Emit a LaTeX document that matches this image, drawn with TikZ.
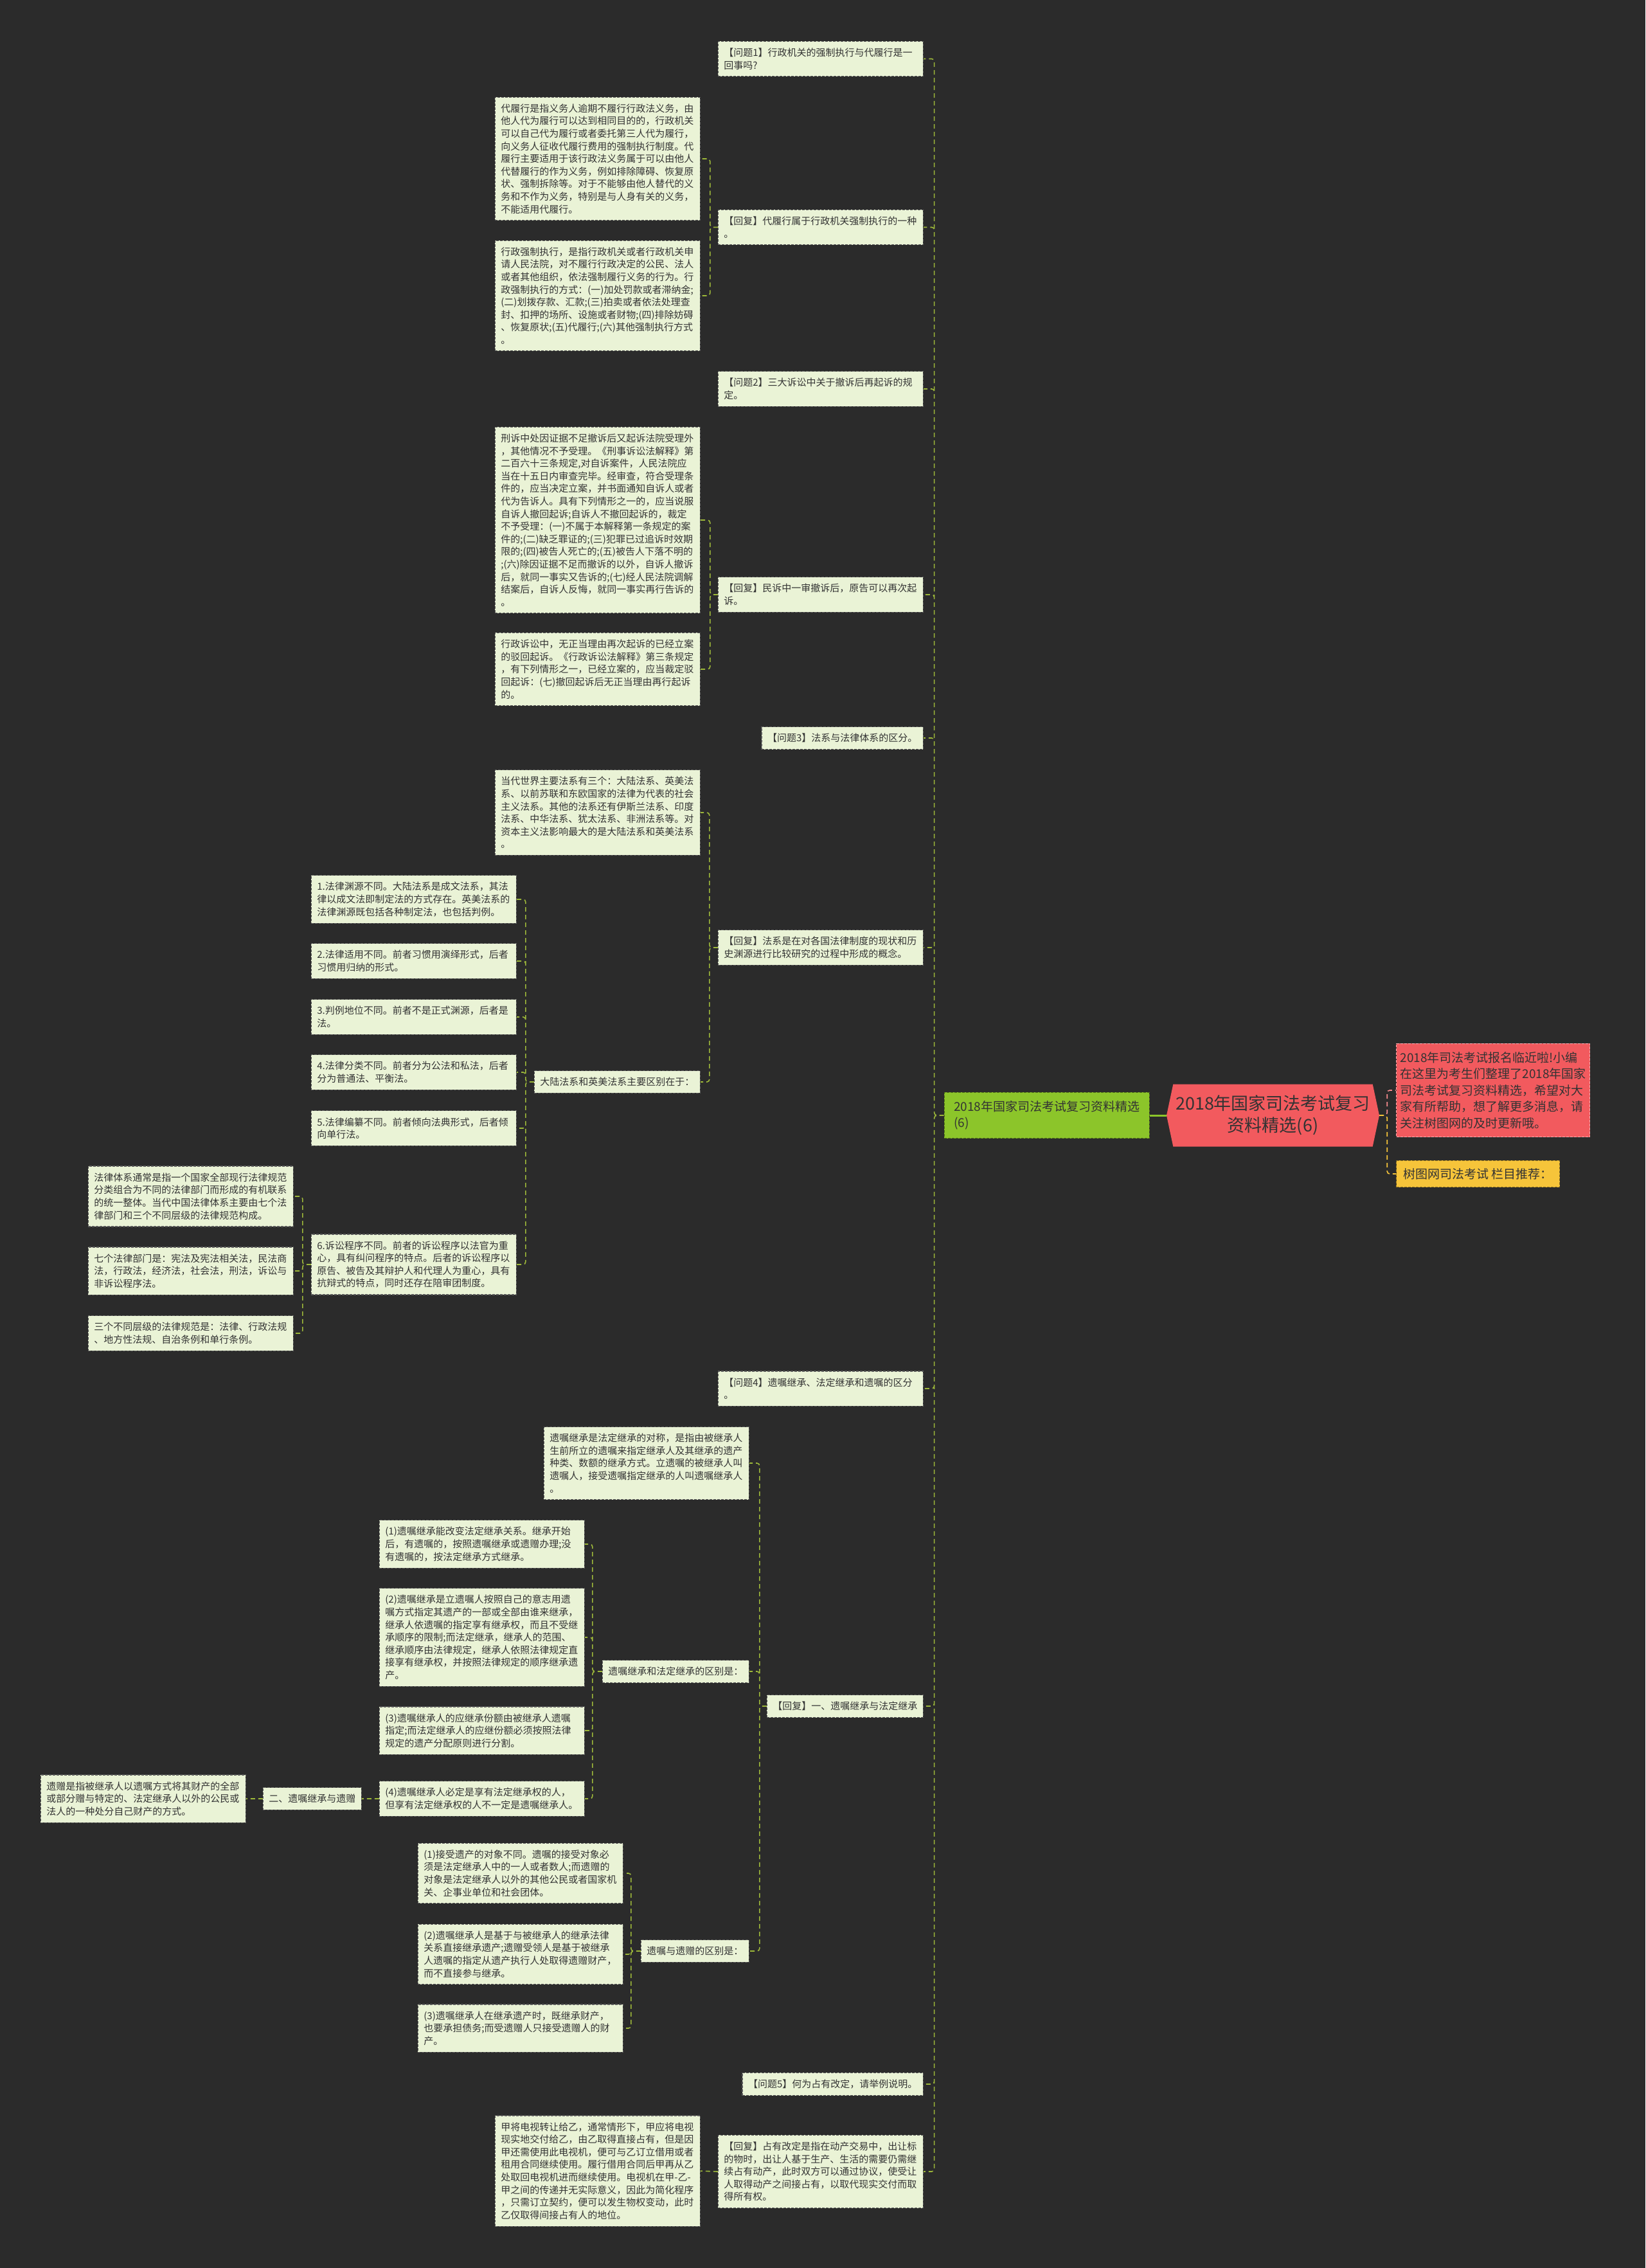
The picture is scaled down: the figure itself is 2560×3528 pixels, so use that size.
\documentclass[tikz,border=0pt]{standalone}
\usepackage{fontspec}
\setmainfont{Noto Sans CJK SC}
\usetikzlibrary{shapes.symbols}

\definecolor{bgc}{HTML}{2B2B2B}
\definecolor{boxfill}{HTML}{EAF3D6}
\definecolor{boxline}{HTML}{5A5A5A}
\definecolor{linkc}{HTML}{9DB83A}
\definecolor{rootred}{HTML}{F25A5E}
\definecolor{leafgreen}{HTML}{8CC52A}
\definecolor{tipyellow}{HTML}{F6C43A}
\definecolor{txt}{HTML}{333333}

\tikzset{
  note/.style={draw=boxline, line width=1.2pt, dash pattern=on 4pt off 2pt, fill=boxfill, text=txt,
    font=\fontsize{15}{19.6}\selectfont, inner xsep=9pt, inner ysep=10.5pt, align=left, anchor=east},
  wide/.style={note, text width=301pt},
  link/.style={draw=linkc, line width=1.6pt, dash pattern=on 7pt off 5pt, rounded corners=4pt},
  topic/.style={font=\fontsize{19}{25.5}\selectfont, text=txt, align=left, line width=1.2pt, dash pattern=on 4pt off 2pt}
}

\begin{document}
\begin{tikzpicture}[x=1pt,y=-1pt]
	\fill[bgc] (0,0) rectangle (2560,3528);
	\useasboundingbox (0,0) rectangle (2560,3528);

	% centre
	\draw (1980.5,1735) node [signal, signal to=west and east, signal pointer angle=156, fill=rootred, text=txt,
		minimum width=331pt, minimum height=97pt, align=center, font=\fontsize{27}{34}\selectfont] (root)
		{2018年国家司法考试复习\\资料精选(6)};
	\draw (1789,1735) node [topic, anchor=east, fill=leafgreen, draw=leafgreen!60!black, inner xsep=15pt, inner ysep=13pt] (main)
		{2018年国家司法考试复习资料精选\\(6)};
	\draw (2172,1696) node [topic, anchor=west, fill=rootred, draw=rootred!50!white, inner xsep=6pt, inner ysep=13pt] (intro)
		{2018年司法考试报名临近啦!小编\\在这里为考生们整理了2018年国家\\司法考试复习资料精选，希望对大\\家有所帮助，想了解更多消息，请\\关注树图网的及时更新哦。};
	\draw (2172,1826) node [topic, anchor=west, fill=tipyellow, draw=tipyellow!60!black, inner xsep=11pt, inner ysep=12pt] (more)
		{树图网司法考试 栏目推荐：};

	% questions and answers
	\draw (1437,91.5) node [wide] (q1) {【问题1】行政机关的强制执行与代履行是一\\回事吗?};
	\draw (1437,353.5) node [wide] (r1) {【回复】代履行属于行政机关强制执行的一种\\。};
	\draw (1437,605) node [wide] (q2) {【问题2】三大诉讼中关于撤诉后再起诉的规\\定。};
	\draw (1437,925) node [wide] (r2) {【回复】民诉中一审撤诉后，原告可以再次起\\诉。};
	\draw (1437,1148) node [note] (q3) {【问题3】法系与法律体系的区分。};
	\draw (1437,1474) node [wide] (r3) {【回复】法系是在对各国法律制度的现状和历\\史渊源进行比较研究的过程中形成的概念。};
	\draw (1437,2160) node [wide] (q4) {【问题4】遗嘱继承、法定继承和遗嘱的区分\\。};
	\draw (1437,2654) node [note] (r4) {【回复】一、遗嘱继承与法定继承};
	\draw (1437,3242) node [note] (q5) {【问题5】何为占有改定，请举例说明。};
	\draw (1437,3378) node [wide] (r5) {【回复】占有改定是指在动产交易中，出让标\\的物时，出让人基于生产、生活的需要仍需继\\续占有动产，此时双方可以通过协议，使受让\\人取得动产之间接占有，以取代现实交付而取\\得所有权。};

	% details
	\draw (1090,247) node [wide] (a1) {代履行是指义务人逾期不履行行政法义务，由\\他人代为履行可以达到相同目的的，行政机关\\可以自己代为履行或者委托第三人代为履行，\\向义务人征收代履行费用的强制执行制度。代\\履行主要适用于该行政法义务属于可以由他人\\代替履行的作为义务，例如排除障碍、恢复原\\状、强制拆除等。对于不能够由他人替代的义\\务和不作为义务，特别是与人身有关的义务，\\不能适用代履行。};
	\draw (1090,460) node [wide] (a2) {行政强制执行，是指行政机关或者行政机关申\\请人民法院，对不履行行政决定的公民、法人\\或者其他组织，依法强制履行义务的行为。行\\政强制执行的方式：(一)加处罚款或者滞纳金;\\(二)划拨存款、汇款;(三)拍卖或者依法处理查\\封、扣押的场所、设施或者财物;(四)排除妨碍\\、恢复原状;(五)代履行;(六)其他强制执行方式\\。};
	\draw (1090,809) node [wide] (b1) {刑诉中处因证据不足撤诉后又起诉法院受理外\\，其他情况不予受理。《刑事诉讼法解释》第\\二百六十三条规定,对自诉案件，人民法院应\\当在十五日内审查完毕。经审查，符合受理条\\件的，应当决定立案，并书面通知自诉人或者\\代为告诉人。具有下列情形之一的，应当说服\\自诉人撤回起诉;自诉人不撤回起诉的，裁定\\不予受理：(一)不属于本解释第一条规定的案\\件的;(二)缺乏罪证的;(三)犯罪已过追诉时效期\\限的;(四)被告人死亡的;(五)被告人下落不明的\\;(六)除因证据不足而撤诉的以外，自诉人撤诉\\后，就同一事实又告诉的;(七)经人民法院调解\\结案后，自诉人反悔，就同一事实再行告诉的\\。};
	\draw (1090,1041) node [wide] (b2) {行政诉讼中，无正当理由再次起诉的已经立案\\的驳回起诉。《行政诉讼法解释》第三条规定\\，有下列情形之一，已经立案的，应当裁定驳\\回起诉：(七)撤回起诉后无正当理由再行起诉\\的。};
	\draw (1090,1264) node [wide] (c1) {当代世界主要法系有三个：大陆法系、英美法\\系、以前苏联和东欧国家的法律为代表的社会\\主义法系。其他的法系还有伊斯兰法系、印度\\法系、中华法系、犹太法系、非洲法系等。对\\资本主义法影响最大的是大陆法系和英美法系\\。};
	\draw (1090,1683) node [note] (c2) {大陆法系和英美法系主要区别在于：};
	\draw (804,1399) node [wide] (d1) {1.法律渊源不同。大陆法系是成文法系，其法\\律以成文法即制定法的方式存在。英美法系的\\法律渊源既包括各种制定法，也包括判例。};
	\draw (804,1495) node [wide] (d2) {2.法律适用不同。前者习惯用演绎形式，后者\\习惯用归纳的形式。};
	\draw (804,1582) node [wide] (d3) {3.判例地位不同。前者不是正式渊源，后者是\\法。};
	\draw (804,1668) node [wide] (d4) {4.法律分类不同。前者分为公法和私法，后者\\分为普通法、平衡法。};
	\draw (804,1755) node [wide] (d5) {5.法律编纂不同。前者倾向法典形式，后者倾\\向单行法。};
	\draw (804,1967) node [wide] (d6) {6.诉讼程序不同。前者的诉讼程序以法官为重\\心，具有纠问程序的特点。后者的诉讼程序以\\原告、被告及其辩护人和代理人为重心，具有\\抗辩式的特点，同时还存在陪审团制度。};
	\draw (457,1861) node [wide] (e1) {法律体系通常是指一个国家全部现行法律规范\\分类组合为不同的法律部门而形成的有机联系\\的统一整体。当代中国法律体系主要由七个法\\律部门和三个不同层级的法律规范构成。};
	\draw (457,1977) node [wide] (e2) {七个法律部门是：宪法及宪法相关法，民法商\\法，行政法，经济法，社会法，刑法，诉讼与\\非诉讼程序法。};
	\draw (457,2074) node [wide] (e3) {三个不同层级的法律规范是：法律、行政法规\\、地方性法规、自治条例和单行条例。};

	\draw (1166,2276) node [wide] (f1) {遗嘱继承是法定继承的对称，是指由被继承人\\生前所立的遗嘱来指定继承人及其继承的遗产\\种类、数额的继承方式。立遗嘱的被继承人叫\\遗嘱人，接受遗嘱指定继承的人叫遗嘱继承人\\。};
	\draw (1166,2600) node [note] (f2) {遗嘱继承和法定继承的区别是：};
	\draw (1166,3035) node [note] (f3) {遗嘱与遗赠的区别是：};
	\draw (910,2402) node [wide] (g1) {(1)遗嘱继承能改变法定继承关系。继承开始\\后，有遗嘱的，按照遗嘱继承或遗赠办理;没\\有遗嘱的，按法定继承方式继承。};
	\draw (910,2547) node [wide] (g2) {(2)遗嘱继承是立遗嘱人按照自己的意志用遗\\嘱方式指定其遗产的一部或全部由谁来继承，\\继承人依遗嘱的指定享有继承权，而且不受继\\承顺序的限制;而法定继承，继承人的范围、\\继承顺序由法律规定，继承人依照法律规定直\\接享有继承权，并按照法律规定的顺序继承遗\\产。};
	\draw (910,2692) node [wide] (g3) {(3)遗嘱继承人的应继承份额由被继承人遗嘱\\指定;而法定继承人的应继份额必须按照法律\\规定的遗产分配原则进行分割。};
	\draw (910,2798) node [wide] (g4) {(4)遗嘱继承人必定是享有法定继承权的人，\\但享有法定继承权的人不一定是遗嘱继承人。};
	\draw (563,2798) node [note] (h1) {二、遗嘱继承与遗赠};
	\draw (383,2798) node [wide] (i1) {遗赠是指被继承人以遗嘱方式将其财产的全部\\或部分赠与特定的、法定继承人以外的公民或\\法人的一种处分自己财产的方式。};
	\draw (970,2914) node [wide] (j1) {(1)接受遗产的对象不同。遗嘱的接受对象必\\须是法定继承人中的一人或者数人;而遗赠的\\对象是法定继承人以外的其他公民或者国家机\\关、企事业单位和社会团体。};
	\draw (970,3040) node [wide] (j2) {(2)遗嘱继承人是基于与被继承人的继承法律\\关系直接继承遗产;遗赠受领人是基于被继承\\人遗嘱的指定从遗产执行人处取得遗赠财产，\\而不直接参与继承。};
	\draw (970,3155) node [wide] (j3) {(3)遗嘱继承人在继承遗产时，既继承财产，\\也要承担债务;而受遗赠人只接受遗赠人的财\\产。};
	\draw (1090,3377) node [wide] (k1) {甲将电视转让给乙，通常情形下，甲应将电视\\现实地交付给乙，由乙取得直接占有，但是因\\甲还需使用此电视机，便可与乙订立借用或者\\租用合同继续使用。履行借用合同后甲再从乙\\处取回电视机进而继续使用。电视机在甲-乙-\\甲之间的传递并无实际意义，因此为简化程序\\，只需订立契约，便可以发生物权变动，此时\\乙仅取得间接占有人的地位。};

	% connectors
	\draw[leafgreen, line width=3pt] (root.west) -- (main.east);
	\draw[link, draw=rootred!70!white] (root.east) -- ++(12,0) |- (intro.west);
	\draw[link, draw=tipyellow] (root.east) -- ++(12,0) |- (more.west);

	\draw[link]
		(main.west) -- ++(-15,0) |- (q1.east)
		(main.west) -- ++(-15,0) |- (r1.east)
		(main.west) -- ++(-15,0) |- (q2.east)
		(main.west) -- ++(-15,0) |- (r2.east)
		(main.west) -- ++(-15,0) |- (q3.east)
		(main.west) -- ++(-15,0) |- (r3.east)
		(main.west) -- ++(-15,0) |- (q4.east)
		(main.west) -- ++(-15,0) |- (r4.east)
		(main.west) -- ++(-15,0) |- (q5.east)
		(main.west) -- ++(-15,0) |- (r5.east)
	;
	\draw[link]
		(r1.west) -- ++(-12,0) |- (a1.east)
		(r1.west) -- ++(-12,0) |- (a2.east)
		(r2.west) -- ++(-12,0) |- (b1.east)
		(r2.west) -- ++(-12,0) |- (b2.east)
		(r3.west) -- ++(-13,0) |- (c1.east)
		(r3.west) -- ++(-13,0) |- (c2.east)
		(r5.west) -- (k1.east)
	;
	\draw[link]
		(c2.west) -- ++(-13,0) |- (d1.east)
		(c2.west) -- ++(-13,0) |- (d2.east)
		(c2.west) -- ++(-13,0) |- (d3.east)
		(c2.west) -- ++(-13,0) |- (d4.east)
		(c2.west) -- ++(-13,0) |- (d5.east)
		(c2.west) -- ++(-13,0) |- (d6.east)
		(d6.west) -- ++(-13,0) |- (e1.east)
		(d6.west) -- ++(-13,0) |- (e2.east)
		(d6.west) -- ++(-13,0) |- (e3.east)
	;
	\draw[link]
		(r4.west) -- ++(-11,0) |- (f1.east)
		(r4.west) -- ++(-11,0) |- (f2.east)
		(r4.west) -- ++(-11,0) |- (f3.east)
		(f2.west) -- ++(-15,0) |- (g1.east)
		(f2.west) -- ++(-15,0) |- (g2.east)
		(f2.west) -- ++(-15,0) |- (g3.east)
		(f2.west) -- ++(-15,0) |- (g4.east)
		(g4.west) -- (h1.east)
		(h1.west) -- (i1.east)
		(f3.west) -- ++(-15,0) |- (j1.east)
		(f3.west) -- ++(-15,0) |- (j2.east)
		(f3.west) -- ++(-15,0) |- (j3.east)
	;
\end{tikzpicture}
\end{document}
